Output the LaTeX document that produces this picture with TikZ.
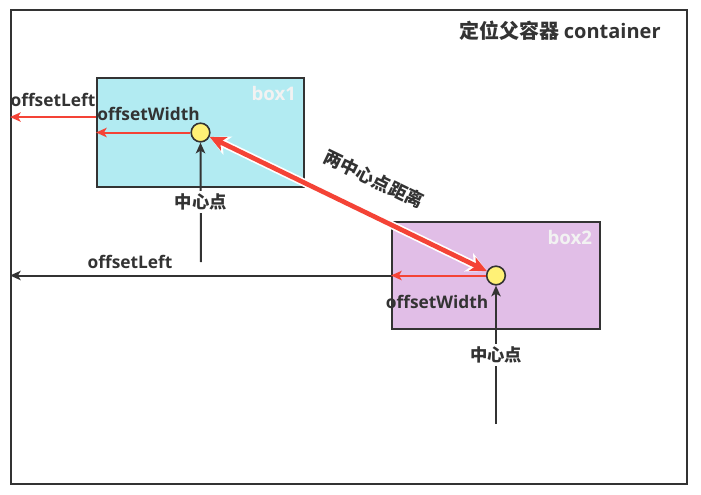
\documentclass[tikz,border=0pt]{standalone}
\usepackage{fontspec}
\setmainfont{Open Sans}
\newfontfamily\cjk{Noto Sans CJK SC}
\usepackage{xcolor}
\usepackage{tikz}
\usetikzlibrary{arrows.meta, positioning}
\definecolor{linegray}{HTML}{333333}
\definecolor{boxblue}{HTML}{B2EBF2}
\definecolor{boxpurple}{HTML}{E1BEE7}
\definecolor{dotyellow}{HTML}{FFF176}
\definecolor{linered}{HTML}{F44336}
\tikzstyle{container} = [rectangle, draw=linegray, line width=1.5pt, minimum width=507pt, minimum height=355.5pt]
\tikzstyle{boxone} = [rectangle, draw=linegray, line width=1.5pt, fill=boxblue, minimum width=155.25pt, minimum height=81.75pt]
\tikzstyle{boxtwo} = [rectangle, draw=linegray, line width=1.5pt, fill=boxpurple, minimum width=156pt, minimum height=80.25pt]
\tikzstyle{boxlabel} = [text=white!90!gray, inner sep=6.5pt, font=\bfseries\fontsize{14}{16}\selectfont]
\tikzstyle{dot} = [circle, draw=linegray, line width=1.2pt, fill=dotyellow, minimum size=14pt, inner sep=0pt]
\tikzstyle{redarrow} = [draw=linered, line width=1.5pt, -{Stealth[length=8pt, width=7pt, inset=2pt]}]
\tikzstyle{grayarrow} = [draw=linegray, line width=1.5pt, -{Stealth[length=8pt, width=7pt, inset=2pt]}]
\tikzstyle{distarrow} = [draw=linered, line width=3.5pt, {Stealth[length=12pt, width=11pt, inset=3pt]}-{Stealth[length=12pt, width=11pt, inset=3pt]},
  preaction={draw=white, line width=6pt, {Stealth[length=15pt, width=15pt, inset=4pt]}-{Stealth[length=15pt, width=15pt, inset=4pt]}}]
\tikzstyle{centerlabel} = [fill=white, inner sep=2pt, font=\cjk\bfseries\fontsize{13}{15}\selectfont]

\begin{document}
\begin{tikzpicture}[x=0.75pt, y=-0.75pt, text=linegray, font=\bfseries\fontsize{13}{15}\selectfont]
\useasboundingbox (0,0) rectangle (701,494);

\node (cont) [container] at (349,247) {};
\node (title) at (560,31) {{\cjk\bfseries\fontsize{15}{17}\selectfont 定位父容器} {\fontsize{15}{17}\selectfont container}};

\node (box1) [boxone] at (200.5,132.5) {};
\node (box2) [boxtwo] at (496,275.5) {};
\node [boxlabel, anchor=north east] at (box1.north east) {box1};
\node [boxlabel, anchor=north east] at (box2.north east) {box2};

\node (c1) [dot] at (box1.center) {};
\node (c2) [dot] at (box2.center) {};

% offsetWidth
\draw [redarrow] (c1.west) -- node[above=4.5pt, xshift=4pt] {offsetWidth} (c1.west -| box1.west);
\draw [redarrow] (c2.west) -- node[below=11pt, xshift=-1pt] {offsetWidth} (c2.west -| box2.west);

% offsetLeft
\coordinate (l1) at ([yshift=11.6pt]box1.west);
\draw [redarrow] (l1) -- node[above=4pt, pos=0.5] {offsetLeft} (l1 -| cont.west);
\draw [grayarrow] (box2.west) -- node[above=1pt, pos=0.685] {offsetLeft} (box2.west -| cont.west);

% center points
\coordinate (t1) at (201,262);
\coordinate (t2) at (496,424);
\draw [grayarrow] (t1) -- node[centerlabel] {中心点} (c1.south);
\draw [grayarrow] (t2) -- node[centerlabel] {中心点} (c2.south);

% distance
\draw [distarrow] (c1) -- node[sloped, above=17pt, pos=0.54, inner sep=0pt, font=\cjk\bfseries\fontsize{13.5}{15}\selectfont] {两中心点距离} (c2);

\end{tikzpicture}
\end{document}
